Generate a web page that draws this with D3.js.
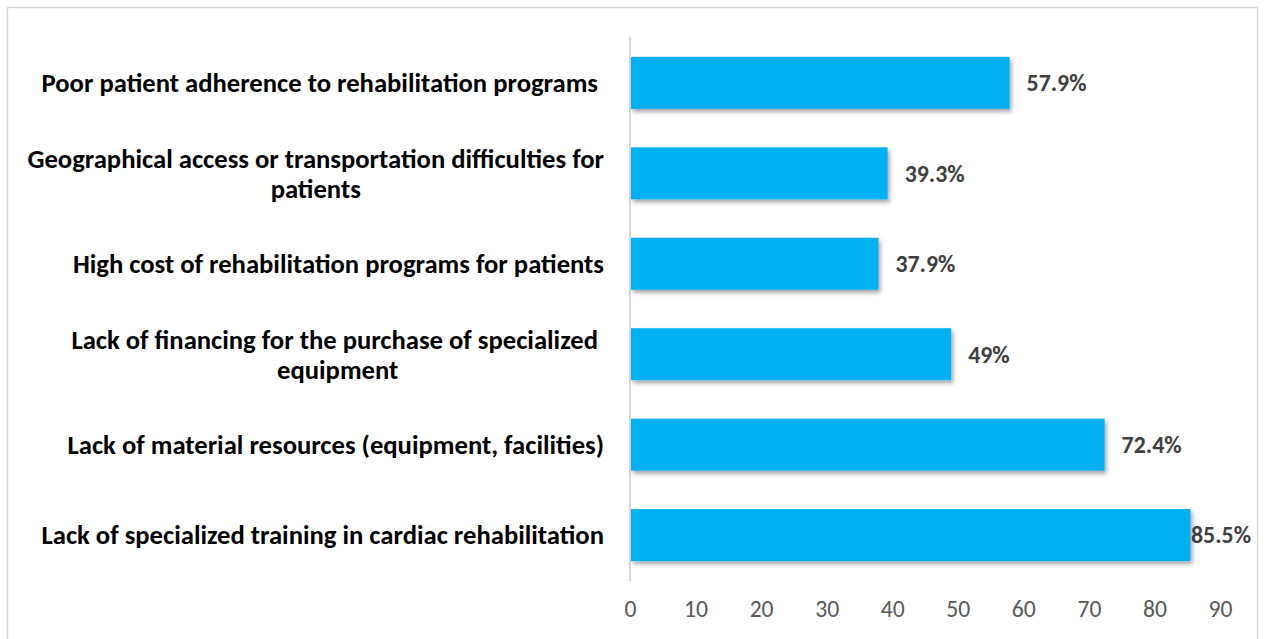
<!DOCTYPE html>
<html>
<head>
<meta charset="utf-8">
<script src="https://cdn.jsdelivr.net/npm/d3@7"></script>
<style>
  body { margin: 0; background: #fff; }
  svg { display: block; }
</style>
</head>
<body>
<div id="chart"></div>
<script>
// categories, top to bottom
const categories = [
  'Poor patient adherence to rehabilitation programs',
  'Geographical access or transportation difficulties for patients',
  'High cost of rehabilitation programs for patients',
  'Lack of financing for the purchase of specialized equipment',
  'Lack of material resources (equipment, facilities)',
  'Lack of specialized training in cardiac rehabilitation'
];
// wrapped lines as they appear in the picture (trailing spaces kept)
const labelLines = [
  ['Poor patient adherence to rehabilitation programs '],
  ['Geographical access or transportation difficulties for', 'patients'],
  ['High cost of rehabilitation programs for patients'],
  ['Lack of financing for the purchase of specialized ', 'equipment'],
  ['Lack of material resources (equipment, facilities)'],
  ['Lack of specialized training in cardiac rehabilitation']
];
const values = [57.9, 39.3, 37.9, 49, 72.4, 85.5];
const valueLabels = ['57.9%', '39.3%', '37.9%', '49%', '72.4%', '85.5%'];
const xTicks = [0, 10, 20, 30, 40, 50, 60, 70, 80, 90];

const width = 1264;
const height = 639;
const fontStack = "Carlito, Calibri, 'Open Sans', sans-serif";

let svg = d3
  .select('#chart')
  .append('svg')
  .attr('width', width)
  .attr('height', height);

// measure a string and pick a font size that gives the wanted width
function fitSize(text, target, weight) {
  let t = svg
    .append('text')
    .style('font-family', fontStack)
    .style('font-weight', weight)
    .style('font-size', '20px')
    .text(text);
  let w = t.node().getComputedTextLength();
  t.remove();
  return 20 * target / w;
}

let catSize = fitSize('Lack of specialized training in cardiac rehabilitation', 563, 'bold');
let valSize = fitSize('85.5%', 60, 'bold');
let tickSize = fitSize('90', 24, 'normal');

// frame
svg
  .append('rect')
  .attr('x', 7.5)
  .attr('y', 7.5)
  .attr('width', 1250)
  .attr('height', 640)
  .attr('fill', '#fff')
  .attr('stroke', '#d9d9d9')
  .attr('stroke-width', 1.5);

// shadow filter for the bars
let filter = svg
  .append('defs')
  .append('filter')
  .attr('id', 'shadow')
  .attr('x', '-5%')
  .attr('y', '-20%')
  .attr('width', '115%')
  .attr('height', '150%');

filter
  .append('feDropShadow')
  .attr('dx', 2)
  .attr('dy', 3)
  .attr('stdDeviation', 2)
  .attr('flood-color', '#000')
  .attr('flood-opacity', 0.35);

// scales
let xPositionScale = d3.scaleLinear().domain([0, 90]).range([630, 1220]);
let yPositionScale = d3
  .scaleBand()
  .domain(categories)
  .range([37, 581])
  .paddingInner(0.425)
  .paddingOuter(0.22);

// vertical axis line
svg
  .append('line')
  .attr('x1', xPositionScale(0))
  .attr('x2', xPositionScale(0))
  .attr('y1', 37)
  .attr('y2', 581)
  .attr('stroke', '#d9d9d9')
  .attr('stroke-width', 2);

// bars
svg
  .selectAll('.bar')
  .data(values)
  .enter()
  .append('rect')
  .attr('class', 'bar')
  .attr('x', xPositionScale(0) + 1)
  .attr('y', (d, i) => yPositionScale(categories[i]))
  .attr('width', (d) => xPositionScale(d) - xPositionScale(0) - 1)
  .attr('height', yPositionScale.bandwidth())
  .attr('fill', '#00b0f0')
  .attr('filter', 'url(#shadow)');

// value labels
let plotRight = 1251;
svg
  .selectAll('.value-label')
  .data(values)
  .enter()
  .append('text')
  .attr('class', 'value-label')
  .attr('y', (d, i) => yPositionScale(categories[i]) + yPositionScale.bandwidth() / 2)
  .attr('dy', '0.35em')
  .style('font-family', fontStack)
  .style('font-weight', 'bold')
  .style('font-size', valSize + 'px')
  .attr('fill', '#404040')
  .text((d, i) => valueLabels[i])
  .attr('x', function (d) {
    let w = this.getComputedTextLength();
    return Math.min(xPositionScale(d) + 17, plotRight - w);
  });

// category labels: block right-aligned, lines centred inside the block
let labelRight = 604;
let lineGap = 30;
labelLines.forEach((lines, i) => {
  let cy = yPositionScale(categories[i]) + yPositionScale.bandwidth() / 2;
  let g = svg.append('g');
  let texts = lines.map((line, j) =>
    g
      .append('text')
      .attr('y', cy + (j - (lines.length - 1) / 2) * lineGap)
      .attr('dy', '0.35em')
      .attr('text-anchor', 'middle')
      .style('white-space', 'pre')
      .style('font-family', fontStack)
      .style('font-weight', 'bold')
      .style('font-size', catSize + 'px')
      .attr('fill', '#000')
      .text(line)
  );
  let blockWidth = d3.max(texts, (t) => t.node().getComputedTextLength());
  texts.forEach((t) => t.attr('x', labelRight - blockWidth / 2));
});

// x axis (labels only)
let xAxisGenerator = d3
  .axisBottom(xPositionScale)
  .tickValues(xTicks)
  .tickSize(0)
  .tickPadding(0);

let xAxis = svg
  .append('g')
  .attr('class', 'axis x-axis')
  .attr('transform', 'translate(0, 600)')
  .call(xAxisGenerator);

xAxis.select('.domain').remove();
xAxis
  .selectAll('text')
  .attr('dy', '0.71em')
  .style('font-family', fontStack)
  .style('font-size', tickSize + 'px')
  .attr('fill', '#595959');
</script>
</body>
</html>
